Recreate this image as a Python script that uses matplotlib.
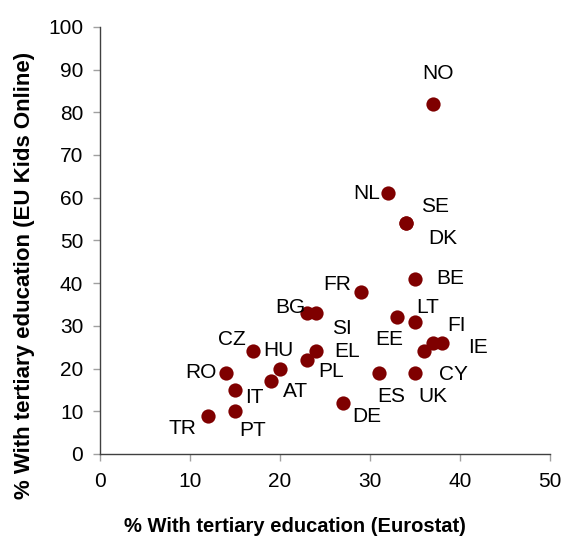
import matplotlib
matplotlib.use("Agg")
import matplotlib.pyplot as plt

plt.rcParams['font.family'] = ['Liberation Sans', 'DejaVu Sans']

countries = ["NO", "NL", "SE", "DK", "BE", "FR", "BG", "SI", "EE", "LT", "FI", "IE", "CY",
             "UK", "ES", "DE", "EL", "PL", "CZ", "HU", "RO", "AT", "IT", "PT", "TR"]
eurostat = [37, 32, 34, 34, 35, 29, 23, 24, 33, 35, 37, 38, 36,
            35, 31, 27, 24, 23, 17, 20, 14, 19, 15, 15, 12]
eukids = [82, 61, 54, 54, 41, 38, 33, 33, 32, 31, 26, 26, 24,
          19, 19, 12, 24, 22, 24, 20, 19, 17, 15, 10, 9]

# label offsets in pixels (dx, dy) relative to marker, dy positive = up
label_offsets = {
    "NO": (5, 30), "NL": (-21, 0), "SE": (29, 17), "DK": (37, -15), "BE": (35, 0),
    "FR": (-24, 7), "BG": (-17, 6), "SI": (26, -15), "EE": (-8, -22), "LT": (13, 14),
    "FI": (23, 17), "IE": (36, -5), "CY": (29, -23), "UK": (18, -24), "ES": (12, -24),
    "DE": (24, -14), "EL": (31, 0), "PL": (24, -11), "CZ": (-21, 12), "HU": (-2, 18),
    "RO": (-25, 0), "AT": (25, -10), "IT": (19, -8), "PT": (18, -19), "TR": (-26, -13),
}

fig = plt.figure(figsize=(5.64, 5.36), dpi=100)
ax = fig.add_axes([0.1773, 0.153, 0.7979, 0.797])

ax.scatter(eurostat, eukids, s=105, color="#7f0000", zorder=3, linewidths=0)

for c, x, y in zip(countries, eurostat, eukids):
    dx, dy = label_offsets[c]
    ax.annotate(c, (x, y), xytext=(dx, dy), textcoords="offset pixels",
                ha="center", va="center", fontsize=15, color="black")

ax.set_xlim(0, 50)
ax.set_ylim(0, 100)
ax.set_xticks(range(0, 51, 10))
ax.set_yticks(range(0, 101, 10))
ax.tick_params(labelsize=15, length=5, width=1, color="#a0a0a0")
ax.tick_params(axis="x", pad=8)
ax.tick_params(axis="y", pad=7)
for s in ["top", "right"]:
    ax.spines[s].set_visible(False)
for s in ["left", "bottom"]:
    ax.spines[s].set_color("#404040")
    ax.spines[s].set_linewidth(1)

ax.set_xlabel("% With tertiary education (Eurostat)", fontsize=14.5, fontweight="bold")
ax.xaxis.set_label_coords((295 - 100) / 450, (454 - 527) / 428)
ax.xaxis.label.set_va("center")
ax.set_ylabel("% With tertiary education (EU Kids Online)", fontsize=16, fontweight="bold")
ax.yaxis.set_label_coords((24.5 - 100) / 450, (454 - 275) / 428)
ax.yaxis.label.set_va("center")

fig.savefig("out.png", dpi=100)
